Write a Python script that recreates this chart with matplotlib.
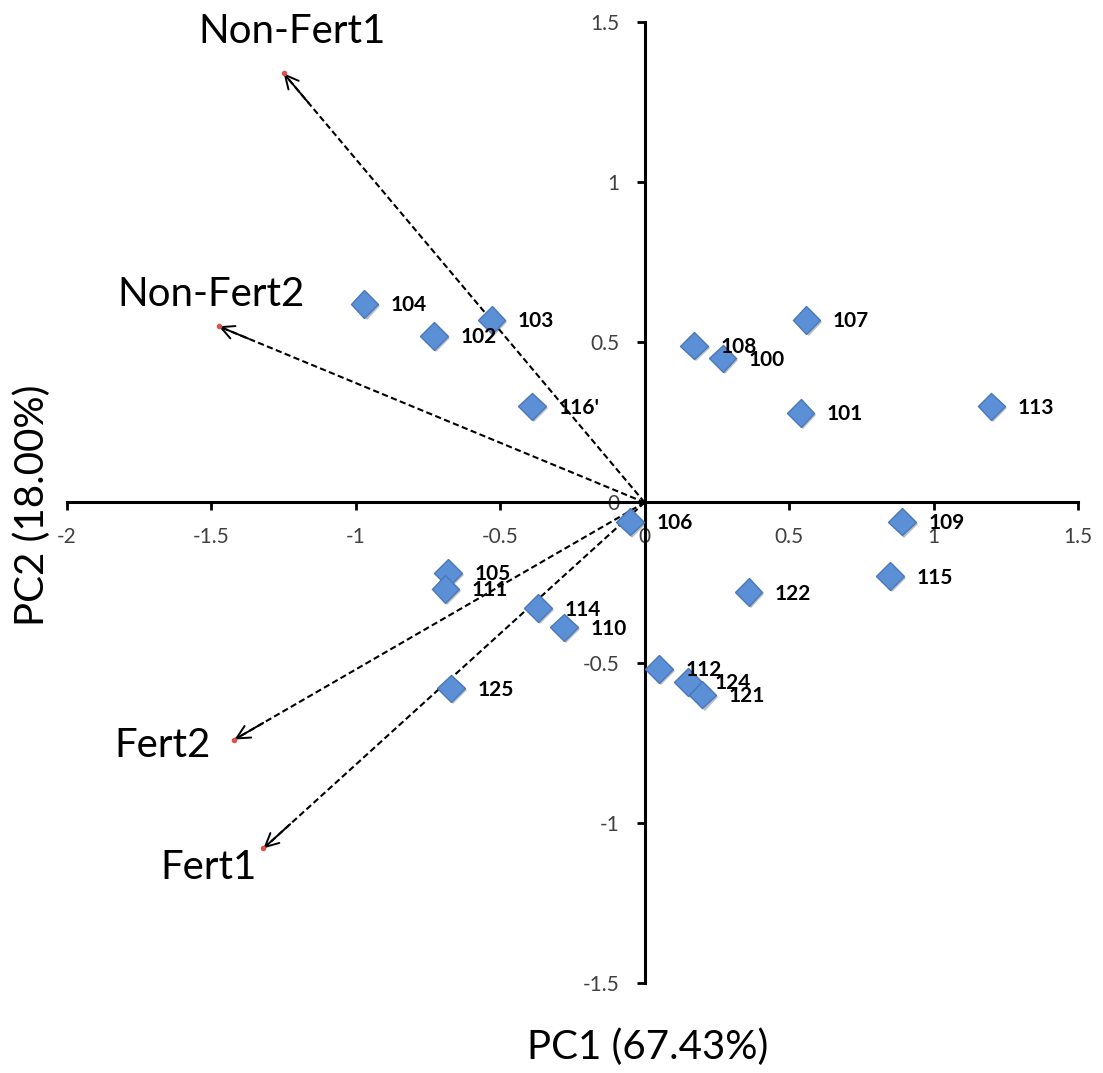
import matplotlib
matplotlib.use("Agg")
import matplotlib.pyplot as plt
import matplotlib.patheffects as pe
import numpy as np

plt.rcParams['font.family'] = ['Lato', 'DejaVu Sans']

# sample scores on PC1 / PC2
sample_ids = ['104', '102', '103', "116'", '108', '100', '107', '101', '113',
              '106', '109', '115', '122', '105', '111', '114', '110', '125',
              '112', '124', '121']
pc1 = [-0.97, -0.73, -0.53, -0.39, 0.17, 0.27, 0.56, 0.54, 1.20,
       -0.05, 0.89, 0.85, 0.36, -0.68, -0.69, -0.37, -0.28, -0.67,
       0.05, 0.15, 0.20]
pc2 = [0.62, 0.52, 0.57, 0.30, 0.49, 0.45, 0.57, 0.28, 0.30,
       -0.06, -0.06, -0.23, -0.28, -0.22, -0.27, -0.33, -0.39, -0.58,
       -0.52, -0.56, -0.60]

# variable loadings (arrows from the origin)
var_names = ['Non-Fert1', 'Non-Fert2', 'Fert2', 'Fert1']
load_pc1 = [-1.25, -1.475, -1.42, -1.32]
load_pc2 = [1.34, 0.55, -0.74, -1.08]
# where each variable name sits
name_x = [-1.22, -1.50, -1.67, -1.51]
name_y = [1.47, 0.65, -0.76, -1.14]

xticks = [-2, -1.5, -1, -0.5, 0, 0.5, 1, 1.5]
yticks = [-1.5, -1, -0.5, 0, 0.5, 1, 1.5]

fig = plt.figure(figsize=(11.03, 10.73), dpi=100)
ax = fig.add_axes([0.0607, 0.0839, 0.9166, 0.8956])
ax.set_xlim(-2, 1.5)
ax.set_ylim(-1.5, 1.5)

# axes crossing at the origin
for side in ['top', 'right']:
    ax.spines[side].set_visible(False)
ax.spines['left'].set_position(('data', 0))
ax.spines['bottom'].set_position(('data', 0))
ax.spines['left'].set_linewidth(2.2)
ax.spines['bottom'].set_linewidth(2.2)
ax.set_xticks(xticks)
ax.set_yticks(yticks)
ax.set_xticklabels([f'{t:g}' for t in xticks])
ax.set_yticklabels([f'{t:g}' for t in yticks])
ax.tick_params(direction='out', length=6, width=2, labelsize=15,
               labelcolor='#404040', pad=12)

# loading arrows: dashed shaft + open head
for x, y in zip(load_pc1, load_pc2):
    ax.plot([0, x], [0, y], ls='--', color='black', lw=1.5,
            dashes=(3, 1.6), zorder=2)
    ax.annotate('', xy=(x, y), xytext=(x * 0.93, y * 0.93),
                arrowprops=dict(arrowstyle='->', color='black', lw=1.4,
                                mutation_scale=24, shrinkA=0, shrinkB=0),
                zorder=2)
    ax.plot(x, y, 'o', color='#d9534f', ms=3, zorder=3)

for name, x, y in zip(var_names, name_x, name_y):
    ax.text(x, y, name, fontsize=29, ha='center', va='center', color='black')

# sample points
ax.plot(pc1, pc2, 'D', ls='none', ms=14, mfc='#5b8fd6', mec='#4a78b8',
        mew=1.0, zorder=4,
        path_effects=[pe.SimplePatchShadow(offset=(1.5, -1.5), alpha=0.3),
                      pe.Normal()])

for sid, x, y in zip(sample_ids, pc1, pc2):
    ax.annotate(sid, (x, y), xytext=(19, -1), textcoords='offset points',
                ha='left', va='center', fontsize=15, fontweight='bold',
                color='black', zorder=5)

fig.text(648 / 1103, 1 - 1047 / 1073, 'PC1 (67.43%)', fontsize=29,
         ha='center', va='center')
fig.text(32 / 1103, 1 - 505 / 1073, 'PC2 (18.00%)', fontsize=29,
         ha='center', va='center', rotation=90)

fig.savefig('out.png', dpi=100, facecolor='white')
